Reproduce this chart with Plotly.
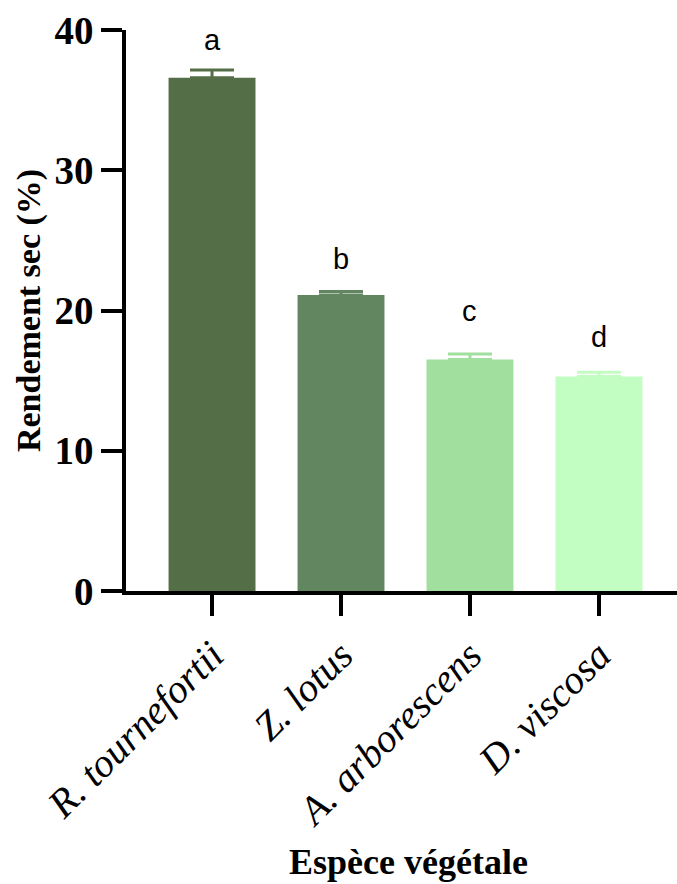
import plotly.graph_objects as go

categories = ["R. tournefortii", "Z. lotus", "A. arborescens", "D. viscosa"]
means = [36.6, 21.1, 16.5, 15.3]
errors = [0.55, 0.25, 0.4, 0.3]
letters = ["a", "b", "c", "d"]
letter_y = [39.3, 23.7, 20.0, 18.1]
colors = ["#546E47", "#628760", "#A0DF9E", "#C2FDC2"]
y_ticks = [0, 10, 20, 30, 40]

fig = go.Figure()
for cat, m, e, c in zip(categories, means, errors, colors):
    fig.add_trace(go.Bar(
        x=[cat], y=[m], width=0.674, marker=dict(color=c, line=dict(width=0)),
        error_y=dict(type="data", symmetric=False, array=[e], arrayminus=[0],
                     color=c, thickness=3, width=22),
        showlegend=False,
    ))

for cat, lt, ly in zip(categories, letters, letter_y):
    fig.add_annotation(x=cat, y=ly, text=lt, showarrow=False,
                       font=dict(family="Liberation Sans", size=29, color="black"),
                       xanchor="center", yanchor="middle")

fig.add_annotation(xref="paper", yref="paper", x=-0.176, y=0.499,
                   text="Rendement sec (%)", textangle=-90, showarrow=False,
                   font=dict(family="Liberation Serif", size=34, color="black", weight="bold"),
                   xanchor="center", yanchor="middle")
fig.add_annotation(xref="paper", yref="paper", x=0.512, y=-0.483,
                   text="Espèce végétale", showarrow=False,
                   font=dict(family="Liberation Serif", size=36, color="black", weight="bold"),
                   xanchor="center", yanchor="middle")

fig.update_layout(
    width=677, height=884,
    margin=dict(l=126, r=0, t=30, b=293),
    plot_bgcolor="white", paper_bgcolor="white",
    bargap=0.3,
)
fig.update_xaxes(
    type="category", range=[-0.667, 3.605],
    showline=True, linecolor="black", linewidth=3.5,
    ticks="outside", ticklen=21, tickwidth=3.5, tickcolor="black",
    tickangle=-45, showgrid=False, zeroline=False,
    tickfont=dict(family="Liberation Serif", size=40, color="black", style="italic"),
)
fig.update_yaxes(
    range=[0, 40], tickvals=y_ticks,
    showline=True, linecolor="black", linewidth=3.5,
    ticks="outside", ticklen=21, tickwidth=3.5, tickcolor="black",
    showgrid=False, zeroline=False,
    tickfont=dict(family="Liberation Serif", size=39, color="black", weight="bold"),
)

fig.write_html("out.html")
